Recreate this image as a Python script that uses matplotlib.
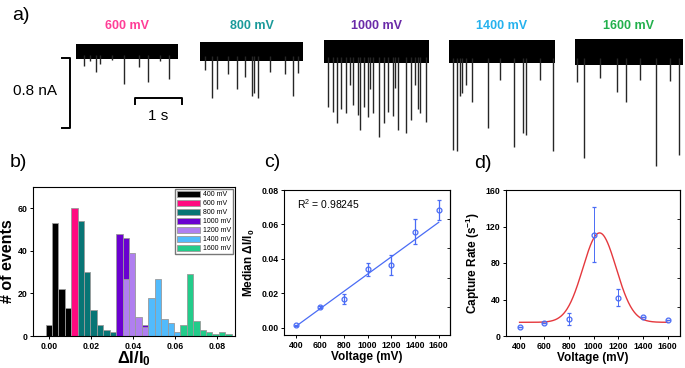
import numpy as np
import matplotlib.pyplot as plt

plt.rcParams['font.family'] = ['Liberation Sans', 'DejaVu Sans']
plt.rcParams['mathtext.fontset'] = 'custom'
plt.rcParams['mathtext.rm'] = 'Liberation Sans'
plt.rcParams['mathtext.bf'] = 'Liberation Sans:bold'
plt.rcParams['mathtext.it'] = 'Liberation Sans:italic'

# ---- a) current traces (time in s from trace start, depth in nA below baseline)
trace_labels = ['600 mV', '800 mV', '1000 mV', '1400 mV', '1600 mV']
trace_colors = ['#ff3d97', '#1a9a9a', '#6a2aa8', '#25b2ee', '#22b04c']
trace_len = [2.17, 2.19, 2.23, 2.26, 2.30]
trace_noise = [0.085, 0.105, 0.13, 0.135, 0.15]

spk_t = [
    [0.17, 0.30, 0.43, 0.51, 0.77, 1.02, 1.34, 1.53, 1.79, 1.98],
    [0.11, 0.26, 0.36, 0.60, 0.79, 0.96, 1.11, 1.15, 1.23, 1.49, 1.81, 1.98, 2.09],
    [0.09, 0.19, 0.28, 0.36, 0.47, 0.55, 0.62, 0.72, 0.77, 0.85, 0.94, 0.98, 1.04,
     1.17, 1.28, 1.36, 1.47, 1.51, 1.57, 1.74, 1.85, 1.94, 2.00, 2.04, 2.17],
    [0.09, 0.17, 0.23, 0.28, 0.36, 0.49, 0.83, 1.09, 1.38, 1.57, 1.64, 1.94, 2.21],
    [0.04, 0.19, 0.53, 0.89, 1.09, 1.38, 1.72, 2.02, 2.21],
]
spk_d = [
    [0.16, 0.11, 0.23, 0.14, 0.10, 0.37, 0.18, 0.35, 0.11, 0.31],
    [0.21, 0.53, 0.43, 0.26, 0.43, 0.29, 0.51, 0.47, 0.53, 0.23, 0.25, 0.51, 0.24],
    [0.63, 0.69, 0.81, 0.66, 0.70, 0.38, 0.61, 0.72, 0.89, 0.63, 0.75, 0.43, 0.70,
     0.97, 0.81, 0.69, 0.74, 0.41, 0.89, 0.93, 0.78, 0.38, 0.66, 0.70, 0.80],
    [1.12, 1.14, 0.51, 0.47, 0.38, 0.57, 0.87, 0.32, 1.09, 0.93, 0.95, 0.32, 1.14],
    [0.35, 1.21, 0.30, 0.46, 0.57, 0.32, 1.31, 0.34, 1.18],
]

# ---- b) histogram of dI/I0
bin_w = 0.00305
hist_labels = ['400 mV', '600 mV', '800 mV', '1000 mV', '1200 mV', '1400 mV', '1600 mV']
hist_colors = ['#000000', '#ff0a80', '#087575', '#6a00d0', '#b07ff0', '#52bbfc', '#22cc8a']
hist_bins = [
    [0, 1, 2, 3],
    [4],
    [5, 6, 7, 8, 9, 10],
    [11, 12, 15],
    [12, 13, 14, 15],
    [16, 17, 18, 19, 20],
    [21, 22, 23, 24, 25, 26, 27, 28],
]
hist_counts = [
    [5, 53, 22, 13],
    [60],
    [54, 30, 12, 5, 3, 2],
    [48, 46, 5],
    [27, 39, 9, 4],
    [18, 27, 8, 6, 2],
    [5, 29, 7, 3, 2, 1, 2, 1],
]

# ---- c) median dI/I0 vs voltage
volt = [400, 600, 800, 1000, 1200, 1400, 1600]
median_di = [0.0014, 0.0120, 0.0167, 0.0339, 0.0362, 0.0558, 0.0684]
median_err = [0.0004, 0.0008, 0.0028, 0.0037, 0.0058, 0.0074, 0.0056]
fit_slope = 5.02e-5
fit_icpt = -0.0191
r2_text = 'R$^2$ = 0.98245'

# ---- d) capture rate vs voltage
rate = [10.0, 14.0, 19.0, 111.0, 42.0, 21.0, 17.5]
rate_err = [0, 0, 6.5, 30, 9, 0, 0]
g_y0, g_amp, g_xc, g_sig = 15.0, 98.0, 1048.0, 135.0

blue = '#4a6cf5'
red = '#e5383d'

fig = plt.figure(figsize=(6.85, 3.68), dpi=100)

# panel a: 47 px per s, 87.5 px per nA
ax_a = fig.add_axes([0, 1 - 175 / 368, 1, 175 / 368])
ax_a.set_xlim(0, 685 / 47)
ax_a.set_ylim(-2.0, 0)
ax_a.axis('off')
starts = [1.62, 4.26, 6.89, 9.55, 12.23]
base = -0.59
for i in range(5):
    t0 = starts[i]
    h = trace_noise[i]
    ax_a.fill_between([t0, t0 + trace_len[i]], base - h, base + h, color='black', lw=0)
    tt = t0 + np.array(spk_t[i])
    ax_a.vlines(tt, base - np.array(spk_d[i]), base - h * 0.5,
                color='#262626', lw=1.0)
    ax_a.text(t0 + trace_len[i] / 2, -0.30, trace_labels[i], color=trace_colors[i],
              fontsize=9, fontweight='bold', ha='center', va='center')
# scale bars
ax_a.plot([1.32, 1.49, 1.49, 1.32], [-0.663, -0.663, -1.463, -1.463], color='black', lw=1.4)
ax_a.text(0.74, -1.04, '0.8 nA', fontsize=11, ha='center', va='center')
ax_a.plot([2.87, 2.87, 3.87, 3.87], [-1.19, -1.12, -1.12, -1.19], color='black', lw=1.4)
ax_a.text(3.37, -1.33, '1 s', fontsize=11, ha='center', va='center')

fig.text(12 / 685, 1 - 16 / 368, 'a)', fontsize=14, va='center')
fig.text(10 / 685, 1 - 162 / 368, 'b)', fontsize=14, va='center')
fig.text(264 / 685, 1 - 162 / 368, 'c)', fontsize=14, va='center')
fig.text(474 / 685, 1 - 164 / 368, 'd)', fontsize=14, va='center')

# panel b
ax_b = fig.add_axes([33 / 685, 1 - 336 / 368, 202 / 685, 149 / 368])
for i in range(7):
    xs = np.array(hist_bins[i]) * bin_w
    ax_b.bar(xs, hist_counts[i], width=bin_w, color=hist_colors[i],
             edgecolor='#9a9a9a', lw=0.6, label=hist_labels[i])
ax_b.set_xlim(-0.0075, 0.0885)
ax_b.set_ylim(0, 70)
ax_b.set_xticks([0, 0.02, 0.04, 0.06, 0.08])
ax_b.set_xticklabels(['0.00', '0.02', '0.04', '0.06', '0.08'])
ax_b.set_yticks([0, 20, 40, 60])
ax_b.set_xlabel('ΔI/I$_\\mathbf{0}$', fontsize=12, fontweight='bold', labelpad=-1)
ax_b.set_ylabel('# of events', fontsize=11.5, fontweight='bold', labelpad=2)
ax_b.legend(loc='upper right', fontsize=5, frameon=True, fancybox=False,
            edgecolor='#555555', handlelength=3.4, handleheight=1.0,
            labelspacing=0.22, borderpad=0.3, handletextpad=0.4,
            borderaxespad=0.25)

# panel c
ax_c = fig.add_axes([284 / 685, 1 - 335 / 368, 166 / 685, 145 / 368])
ax_c.errorbar(volt, median_di, yerr=median_err, fmt='o', mfc='none', mec=blue,
              ms=3.5, mew=0.9, ecolor=blue, elinewidth=0.9, capsize=1.5, capthick=0.8)
xf = np.array([400, 1600])
ax_c.plot(xf, fit_slope * xf + fit_icpt, color=blue, lw=0.9)
ax_c.set_xlim(295, 1695)
ax_c.set_ylim(-0.0043, 0.08)
ax_c.set_xticks([400, 600, 800, 1000, 1200, 1400, 1600])
ax_c.set_yticks([0, 0.02, 0.04, 0.06, 0.08])
ax_c.set_yticklabels(['0.00', '0.02', '0.04', '0.06', '0.08'])
ax_c.text(0.08, 0.9, r2_text, transform=ax_c.transAxes, fontsize=7.5, va='center')
ax_c.set_xlabel('Voltage (mV)', fontsize=8.5, fontweight='bold', labelpad=1)
ax_c.set_ylabel('Median ΔI/I$_\\mathbf{0}$', fontsize=8.5, fontweight='bold', labelpad=3)
sec_c = ax_c.secondary_yaxis('right')
sec_c.set_yticks([0.0122, 0.0287, 0.0461, 0.0629])
sec_c.tick_params(direction='in', labelright=False, length=2.5, width=0.6)

# panel d
ax_d = fig.add_axes([506 / 685, 1 - 336 / 368, 174 / 685, 146 / 368])
xg = np.linspace(400, 1600, 300)
ax_d.plot(xg, g_y0 + g_amp * np.exp(-(xg - g_xc) ** 2 / (2 * g_sig ** 2)), color=red, lw=1.0)
ax_d.errorbar(volt, rate, yerr=rate_err, fmt='o', mfc='none', mec=blue,
              ms=3.5, mew=0.9, ecolor=blue, elinewidth=0.7, capsize=1.5, capthick=0.7)
ax_d.set_xlim(290, 1700)
ax_d.set_ylim(0, 160)
ax_d.set_xticks([400, 600, 800, 1000, 1200, 1400, 1600])
ax_d.set_yticks([0, 40, 80, 120, 160])
ax_d.set_xlabel('Voltage (mV)', fontsize=8.5, fontweight='bold', labelpad=1)
ax_d.set_ylabel('Capture Rate (s$^{\\mathbf{-1}}$)', fontsize=8.5, fontweight='bold', labelpad=3)
sec_d = ax_d.secondary_yaxis('right')
sec_d.set_yticks([32, 64, 96, 128])
sec_d.tick_params(direction='in', labelright=False, length=2.5, width=0.6)

for ax in [ax_b, ax_c, ax_d]:
    ax.tick_params(labelsize=6.3, length=2.5, width=0.7, pad=1.5)
    for lab in ax.get_xticklabels() + ax.get_yticklabels():
        lab.set_fontweight('bold')
    for sp in ax.spines.values():
        sp.set_linewidth(0.8)

fig.savefig('out.png', dpi=100)
